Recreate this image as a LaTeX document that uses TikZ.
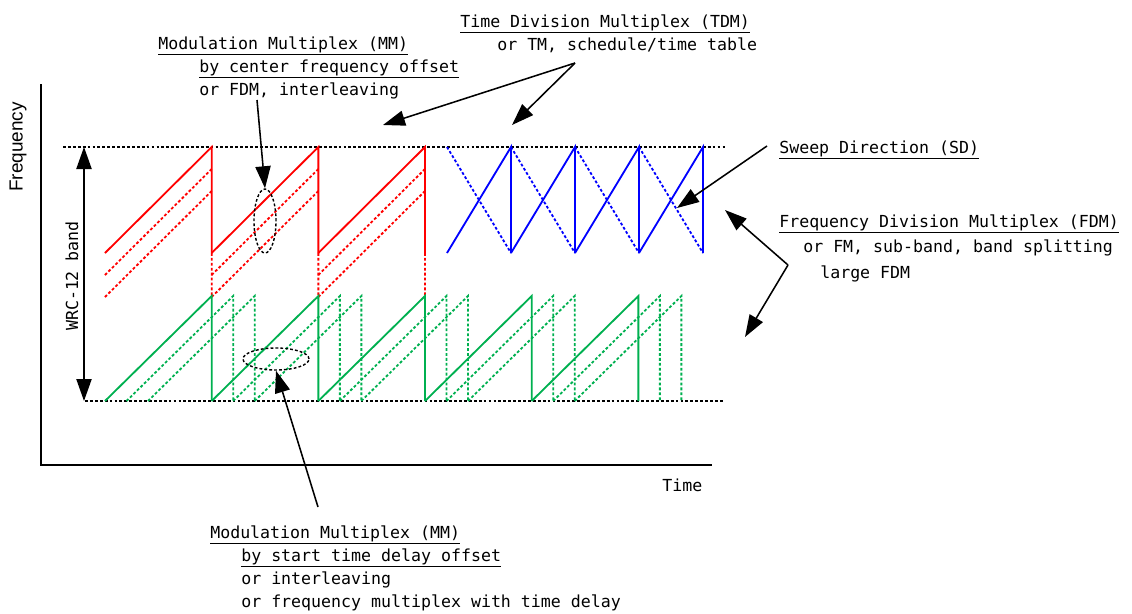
\documentclass[tikz,border=0pt]{standalone}
\usepackage{fontspec}
\setmainfont{DejaVu Sans Mono}
\newfontfamily\arialfont{Liberation Sans}
\usetikzlibrary{arrows.meta, shapes.geometric}
\definecolor{sawred}{RGB}{255, 0, 0}
\definecolor{sawblue}{RGB}{0, 0, 255}
\definecolor{sawgreen}{RGB}{0, 176, 80}

\begin{document}
\begin{tikzpicture}[x=0.025cm, y=-0.025cm,
    saw/.style={line width=1.3pt},
    sawdash/.style={line width=1.3pt, dash pattern=on 2pt off 1.5pt},
    bandline/.style={line width=1pt, dash pattern=on 2pt off 1.5pt},
    pointer/.style={line width=1.1pt, -{Triangle[length=0.55cm, width=0.38cm]}},
    txt/.style={anchor=base west, inner sep=0pt, font=\fontsize{11.8}{14}\selectfont},
    ring/.style={ellipse, draw, line width=1pt, dash pattern=on 2pt off 1.5pt, inner sep=0pt}]
    \useasboundingbox (0,0) rectangle (1132,613);

    % axes
    \draw[line width=1.1pt] (41,84) -- (41,465) -- (712,465);
    \node[rotate=90, inner sep=0pt, font=\arialfont\fontsize{13.5}{16}\selectfont] (freq) at (18,147) {Frequency};
    \node[txt] (time) at (662,491) {Time};

    % band limits
    \draw[bandline] (63,147) -- (725,147);
    \draw[bandline] (85,401) -- (724,401);
    \coordinate (bandtop) at (84,147);
    \coordinate (bandbot) at (84,401);
    \draw[line width=1.1pt, {Triangle[length=0.55cm, width=0.38cm]}-{Triangle[length=0.55cm, width=0.38cm]}] (bandtop) -- (bandbot);
    \node[rotate=90, inner sep=0pt, font=\fontsize{11.8}{14}\selectfont] (band) at (72,276) {WRC-12 band};

    % red sweeps
    \foreach \i in {0,1,2} {
        \pgfmathsetmacro\xs{105+106.67*\i}
        \draw[sawdash, sawred] (\xs,275) -- ++(106.67,-106) (\xs,297) -- ++(106.67,-106)
            (\xs+106.67,253) -- ++(0,44);
        \draw[saw, sawred] (\xs,253) -- ++(106.67,-106) -- ++(0,106);
    }

    % green sweeps
    \foreach \i in {0,...,4} {
        \pgfmathsetmacro\xs{105+106.67*\i}
        \foreach \d in {21.5,43}
            \draw[sawdash, sawgreen] (\xs+\d,401) -- ++(106.67,-105) -- ++(0,105);
        \draw[saw, sawgreen] (\xs,401) -- ++(106.67,-105) -- ++(0,105);
    }

    % blue sweeps
    \foreach \i in {0,...,3} {
        \pgfmathsetmacro\xs{447+64*\i}
        \draw[sawdash, sawblue] (\xs,147) -- ++(64,106);
        \draw[saw, sawblue] (\xs,253) -- ++(64,-106) -- ++(0,106);
    }

    % offset rings
    \node[ring, minimum width=0.55cm, minimum height=1.6cm] (mmc) at (265,221) {};
    \node[ring, minimum width=1.65cm, minimum height=0.55cm] (mmd) at (276,359) {};

    % labels
    \node[txt] (mma) at (158,49) {\underline{Modulation Multiplex (MM)}};
    \node[txt] (mmb) at (199,72) {\underline{by center frequency offset}};
    \node[txt] (mmx) at (199,95) {or FDM, interleaving};

    \node[txt] (tdma) at (460,27) {\underline{Time Division Multiplex (TDM)}};
    \node[txt] (tdmb) at (497,50) {or TM, schedule/time table};

    \node[txt] (sd) at (779,153) {\underline{Sweep Direction (SD)}};

    \node[txt] (fdma) at (779,227) {\underline{Frequency Division Multiplex (FDM)}};
    \node[txt] (fdmb) at (803,252) {or FM, sub-band, band splitting};
    \node[txt] (fdmc) at (820,278) {large FDM};

    \node[txt] (dla) at (210,538) {\underline{Modulation Multiplex (MM)}};
    \node[txt] (dlb) at (241,561) {\underline{by start time delay offset}};
    \node[txt] (dlc) at (241,584) {or interleaving};
    \node[txt] (dld) at (241,607) {or frequency multiplex with time delay};

    % pointers
    \coordinate (mmsrc) at (257,100);
    \coordinate (tdmsrc) at (575,63);
    \coordinate (tdmtipa) at (383,125);
    \coordinate (tdmtipb) at (512,125);
    \coordinate (sdsrc) at (767,146);
    \coordinate (sdtip) at (677,208);
    \coordinate (fdmsrc) at (788,265);
    \coordinate (fdmtipa) at (725,210);
    \coordinate (fdmtipb) at (745,337);
    \coordinate (dlsrc) at (318,507);

    \draw[pointer] (mmsrc) -- (mmc.north);
    \draw[pointer] (tdmsrc) -- (tdmtipa);
    \draw[pointer] (tdmsrc) -- (tdmtipb);
    \draw[pointer] (sdsrc) -- (sdtip);
    \draw[pointer] (fdmsrc) -- (fdmtipa);
    \draw[pointer] (fdmsrc) -- (fdmtipb);
    \draw[pointer] (dlsrc) -- (mmd.south);
\end{tikzpicture}
\end{document}
